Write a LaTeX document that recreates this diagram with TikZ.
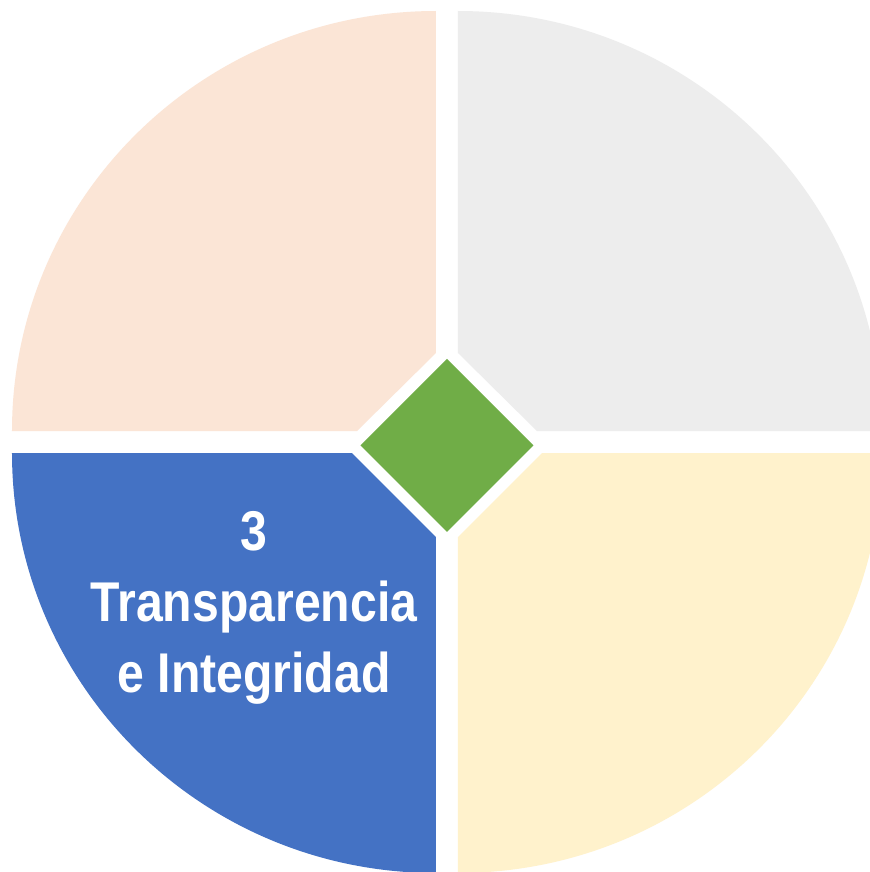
\documentclass[tikz,border=0pt]{standalone}
\usepackage{fontspec}
\setmainfont{Liberation Sans}
\newfontfamily\labelfont{Liberation Sans}[FakeStretch=0.86]
\usetikzlibrary{shapes.geometric}
\definecolor{quadpeach}{HTML}{FBE5D6}
\definecolor{quadgray}{HTML}{EDEDED}
\definecolor{quadblue}{HTML}{4472C4}
\definecolor{quadcream}{HTML}{FFF2CC}
\definecolor{hubgreen}{HTML}{70AD47}

\begin{document}
\begin{tikzpicture}[x=0.75pt, y=0.75pt,
  rim/.style={x radius=424, y radius=420}]
\coordinate (origin) at (0,0);
% Frame of the picture
\useasboundingbox (-447,-430) rectangle (423,442);
\fill[white] (-447,-430) rectangle (423,442);
\clip (-447,-430) rectangle (423,442);
% Draw quadrants
\fill[quadpeach] (-11,89) -- (-11,431) arc[start angle=90, end angle=180, rim] -- (-90,11) -- cycle;
\fill[quadgray] (11,89) -- (11,431) arc[start angle=90, end angle=0, rim] -- (90,11) -- cycle;
\fill[quadblue] (-11,-95) -- (-11,-431) arc[start angle=270, end angle=180, rim] -- (-95,-11) -- cycle;
\fill[quadcream] (11,-95) -- (11,-431) arc[start angle=270, end angle=360, rim] -- (95,-11) -- cycle;
% Diamond in the middle
\node[diamond, fill=hubgreen, minimum width=129.75pt, minimum height=129.75pt,
  inner sep=0pt, outer sep=0pt] (hub) at (0,-3.3) {};
% Label of the third quadrant
\node[text=white, font=\labelfont\bfseries\fontsize{42}{53.25}\selectfont,
  align=center, anchor=base] (label) at (-193,-250) {3\\Transparencia\\e Integridad};
\end{tikzpicture}
\end{document}
